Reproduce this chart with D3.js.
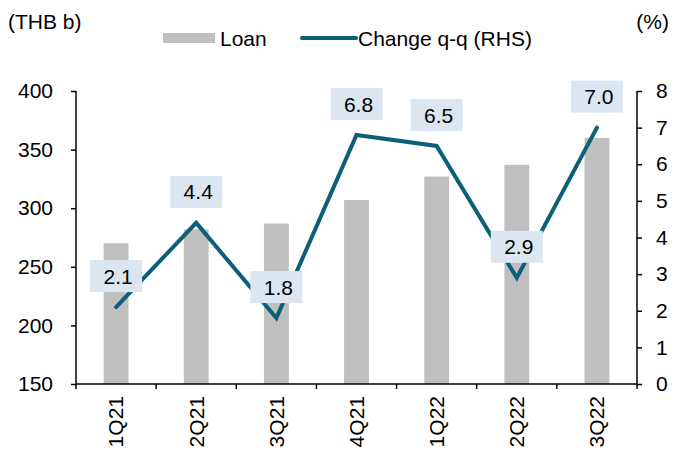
<!DOCTYPE html>
<html>
<head>
<meta charset="utf-8">
<script src="https://cdn.jsdelivr.net/npm/d3@7"></script>
<style>
  body { margin: 0; background: #fff; }
  svg { display: block; font-family: Arial, "Liberation Sans", sans-serif; }
</style>
</head>
<body>
<div id="chart"></div>
<script>
// data
const quarters = ['1Q21', '2Q21', '3Q21', '4Q21', '1Q22', '2Q22', '3Q22']
const loan = [270, 282, 287, 307, 327, 337, 360]
const changeQoQ = [2.1, 4.4, 1.8, 6.8, 6.5, 2.9, 7.0]
const leftTicks = [150, 200, 250, 300, 350, 400]
const rightTicks = [0, 1, 2, 3, 4, 5, 6, 7, 8]

const width = 675
const height = 450
const margin = {top: 91, right: 38, bottom: 66, left: 76}
const fontSize = 21

const barColor = '#bfbfbf'
const lineColor = '#0b5f78'
const labelBg = '#dce6f1'

const svg = d3.create('svg')
  .attr('width', width)
  .attr('height', height)
  .attr('viewBox', [0, 0, width, height])

document.getElementById('chart').appendChild(svg.node())

// scales
const x = d3.scaleBand()
  .domain(quarters)
  .range([margin.left, width - margin.right])

const yLeft = d3.scaleLinear()
  .domain([150, 400])
  .range([height - margin.bottom, margin.top])

const yRight = d3.scaleLinear()
  .domain([0, 8])
  .range([height - margin.bottom, margin.top])

const barW = x.bandwidth() * 0.31

// bars
svg.append('g')
  .selectAll('rect')
  .data(quarters)
  .join('rect')
    .attr('x', d => x(d) + x.bandwidth() / 2 - barW / 2)
    .attr('y', (d, i) => yLeft(loan[i]))
    .attr('width', barW)
    .attr('height', (d, i) => yLeft(150) - yLeft(loan[i]))
    .attr('fill', barColor)

// line
const line = d3.line()
  .x((d, i) => x(quarters[i]) + x.bandwidth() / 2)
  .y(d => yRight(d))

svg.append('path')
  .datum(changeQoQ)
  .attr('d', line)
  .attr('fill', 'none')
  .attr('stroke', lineColor)
  .attr('stroke-width', 4)
  .attr('stroke-linejoin', 'miter')
  .attr('stroke-linecap', 'round')

// axes
const axisLeft = svg.append('g')
  .attr('transform', `translate(${margin.left},0)`)
  .call(d3.axisLeft(yLeft).tickValues(leftTicks).tickSize(5).tickPadding(18))

const axisRight = svg.append('g')
  .attr('transform', `translate(${width - margin.right},0)`)
  .call(d3.axisRight(yRight).tickValues(rightTicks).tickSize(5).tickPadding(14))

const axisBottom = svg.append('g')
  .attr('transform', `translate(0,${height - margin.bottom})`)
  .call(d3.axisBottom(x).tickSize(0).tickPadding(0))

// category boundary ticks
axisBottom.selectAll('.bnd')
  .data(d3.range(quarters.length + 1))
  .join('line')
    .attr('class', 'bnd')
    .attr('x1', i => margin.left + i * x.step())
    .attr('x2', i => margin.left + i * x.step())
    .attr('y1', 0)
    .attr('y2', 5)
    .attr('stroke', '#000')
    .attr('stroke-width', 1.5)

axisBottom.selectAll('.tick text')
  .attr('transform', 'translate(0,12) rotate(-90)')
  .attr('text-anchor', 'end')
  .attr('dy', '0.35em')
  .attr('x', 0)
  .attr('y', 0)

for (const g of [axisLeft, axisRight, axisBottom]) {
  g.select('.domain').attr('stroke', '#000').attr('stroke-width', 1.5)
  g.selectAll('.tick line').attr('stroke', '#000').attr('stroke-width', 1.5)
  g.selectAll('.tick text')
    .attr('fill', '#000')
    .attr('font-size', fontSize)
    .attr('font-family', 'Arial, "Liberation Sans", sans-serif')
}
axisBottom.select('.domain').attr('d', `M${margin.left},0H${width - margin.right}`)
axisLeft.select('.domain').attr('d', `M0,${margin.top}V${height - margin.bottom}`)
axisRight.select('.domain').attr('d', `M0,${margin.top}V${height - margin.bottom}`)

// data labels
const labels = svg.append('g')
  .selectAll('g')
  .data(changeQoQ)
  .join('g')
    .attr('transform', (d, i) => `translate(${x(quarters[i]) + x.bandwidth() / 2},${yRight(d) - 31})`)

labels.append('rect')
  .attr('x', -26)
  .attr('y', -16)
  .attr('width', 52)
  .attr('height', 32)
  .attr('fill', labelBg)

labels.append('text')
  .attr('x', 2)
  .attr('dy', '0.36em')
  .attr('text-anchor', 'middle')
  .attr('font-size', fontSize)
  .attr('fill', '#000')
  .text(d => d.toFixed(1))

// titles
svg.append('text')
  .attr('x', 8)
  .attr('y', 29)
  .attr('font-size', fontSize)
  .text('(THB b)')

svg.append('text')
  .attr('x', 669)
  .attr('y', 29)
  .attr('font-size', fontSize)
  .attr('text-anchor', 'end')
  .text('(%)')

// legend
const legend = svg.append('g')
legend.append('rect')
  .attr('x', 163)
  .attr('y', 33)
  .attr('width', 52)
  .attr('height', 10)
  .attr('fill', barColor)
legend.append('text')
  .attr('x', 220)
  .attr('y', 46)
  .attr('font-size', fontSize)
  .text('Loan')
legend.append('line')
  .attr('x1', 302)
  .attr('x2', 356)
  .attr('y1', 38)
  .attr('y2', 38)
  .attr('stroke', lineColor)
  .attr('stroke-width', 4)
  .attr('stroke-linecap', 'round')
legend.append('text')
  .attr('x', 358)
  .attr('y', 46)
  .attr('font-size', fontSize)
  .text('Change q-q (RHS)')
</script>
</body>
</html>
